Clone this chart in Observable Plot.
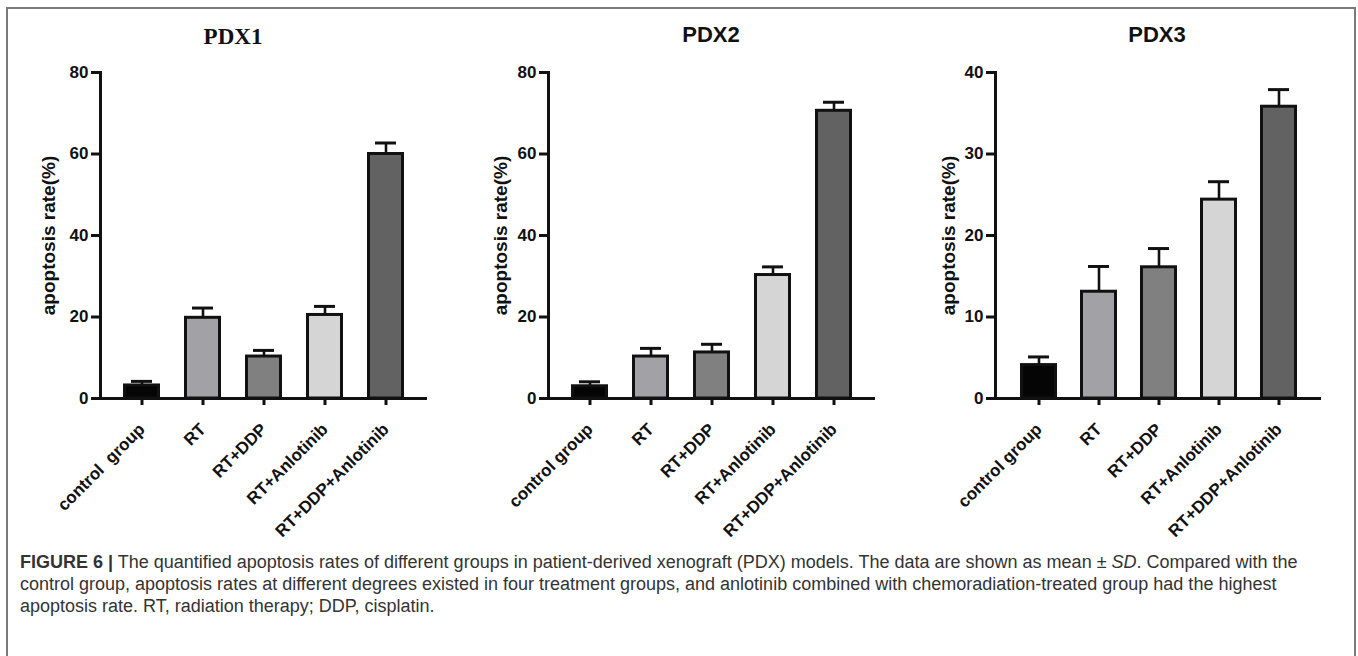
<!DOCTYPE html>
<html>
<head>
<meta charset="utf-8">
<script src="https://cdn.jsdelivr.net/npm/d3@7"></script>
<script src="https://cdn.jsdelivr.net/npm/@observablehq/plot@0.6"></script>
<style>
  html, body { margin: 0; padding: 0; background: #fff; width: 1358px; height: 656px; overflow: hidden; }
  #root { position: relative; width: 1358px; height: 656px; }
  #frame { position: absolute; left: 6px; top: 7px; width: 1346px; height: 700px; border: 2px solid #7a7a7a; border-bottom: none; }
  .panel { position: absolute; top: 0; }
  .title { position: absolute; transform: translateX(-50%); font-weight: bold; color: #111; white-space: nowrap; }
  #caption { position: absolute; left: 20px; top: 551px; font-family: "Liberation Sans", Arial, sans-serif; font-size: 18px; line-height: 22px; color: #333; }
  #caption div { white-space: nowrap; }
</style>
</head>
<body>
<div id="root">
  <div id="frame"></div>
  <div id="caption">
    <div><b>FIGURE 6 |</b> The quantified apoptosis rates of different groups in patient-derived xenograft (PDX) models. The data are shown as mean ± <i>SD</i>. Compared with the</div>
    <div>control group, apoptosis rates at different degrees existed in four treatment groups, and anlotinib combined with chemoradiation-treated group had the highest</div>
    <div>apoptosis rate. RT, radiation therapy; DDP, cisplatin.</div>
  </div>
</div>
<script>
const groups1 = ["control  group", "RT", "RT+DDP", "RT+Anlotinib", "RT+DDP+Anlotinib"];
const groups = ["control group", "RT", "RT+DDP", "RT+Anlotinib", "RT+DDP+Anlotinib"];
const colors = ["#050505", "#a2a2a6", "#808080", "#d5d5d5", "#626262"];

const pdx1Mean = [3.2, 19.8, 10.3, 20.5, 60.0];
const pdx1SD   = [1.0, 2.4, 1.5, 2.1, 2.7];
const pdx2Mean = [3.0, 10.3, 11.3, 30.3, 70.6];
const pdx2SD   = [1.1, 2.0, 2.0, 2.0, 2.1];
const pdx3Mean = [4.1, 13.1, 16.1, 24.4, 35.8];
const pdx3SD   = [1.0, 3.1, 2.3, 2.2, 2.1];

const ticks80 = [0, 20, 40, 60, 80];
const ticks40 = [0, 10, 20, 30, 40];

const panels = [
  {title: "PDX1", serif: true, cats: groups1, mean: pdx1Mean, sd: pdx1SD, ymax: 80, ticks: ticks80,
   left: 0, width: 460, marginLeft: 100, marginRight: 33, labelDx: -52, titleX: 233},
  {title: "PDX2", serif: false, cats: groups, mean: pdx2Mean, sd: pdx2SD, ymax: 80, ticks: ticks80,
   left: 450, width: 460, marginLeft: 98, marginRight: 35, labelDx: -48, titleX: 711},
  {title: "PDX3", serif: false, cats: groups, mean: pdx3Mean, sd: pdx3SD, ymax: 40, ticks: ticks40,
   left: 900, width: 450, marginLeft: 95, marginRight: 29, labelDx: -47, titleX: 1157}
];

const root = document.getElementById("root");

function thicken(el, w) {
  const all = [el, ...el.querySelectorAll("*")];
  for (const c of all) {
    c.setAttribute("stroke-width", w);
    c.setAttribute("stroke", "#111");
    c.style.strokeWidth = w + "px";
  }
}

for (const p of panels) {
  const data = p.cats.map((g, i) => ({group: g, mean: p.mean[i], top: p.mean[i] + p.sd[i], color: colors[i]}));
  const chart = Plot.plot({
    width: p.width,
    height: 540,
    marginLeft: p.marginLeft,
    marginRight: p.marginRight,
    marginTop: 72,
    marginBottom: 142,
    style: {fontFamily: "Liberation Sans, Arial, sans-serif", color: "#111", background: "transparent"},
    x: {domain: p.cats, paddingInner: 0.39, paddingOuter: 0.37, label: null},
    y: {domain: [0, p.ymax], label: null},
    marks: [
      Plot.ruleX(data, {x: "group", y1: "mean", y2: "top", stroke: "#111", strokeWidth: 2.6}),
      Plot.tickY(data, {x: "group", y: "top", stroke: "#111", strokeWidth: 2.6, insetLeft: 8, insetRight: 8}),
      Plot.barY(data, {x: "group", y: "mean", fill: "color", stroke: "#111", strokeWidth: 3, insetLeft: 1.5, insetRight: 1.5}),
      Plot.frame({anchor: "left", stroke: "#111", strokeWidth: 3, ariaLabel: "yline"}),
      Plot.ruleY([0], {stroke: "#111", strokeWidth: 3}),
      Plot.axisY({ticks: p.ticks, tickSize: 9, tickPadding: 3, fontSize: 17, fontWeight: "bold", strokeWidth: 3, stroke: "#111", label: null, tickFormat: d => String(d)}),
      Plot.axisX({tickSize: 7, tickFormat: () => "", strokeWidth: 3, stroke: "#111", label: null}),
      Plot.text(p.cats, {x: d => d, frameAnchor: "bottom", dy: 28, rotate: -45, textAnchor: "end", lineAnchor: "middle", fontSize: 17, fontWeight: "bold", fill: "#111"}),
      Plot.text(["apoptosis rate(%)"], {frameAnchor: "left", textAnchor: "middle", dx: p.labelDx, rotate: -90, fontSize: 19, fontWeight: "bold", fill: "#111"})
    ]
  });
  chart.querySelectorAll('[aria-label*="tick"]:not([aria-label*="label"]), [aria-label*="frame"], [aria-label="yline"]').forEach(el => thicken(el, 3));
  chart.classList.add("panel");
  chart.style.left = p.left + "px";
  root.appendChild(chart);

  const t = document.createElement("div");
  t.className = "title";
  t.textContent = p.title;
  t.style.left = p.titleX + "px";
  if (p.serif) {
    t.style.fontFamily = "'Liberation Serif', 'Times New Roman', serif";
    t.style.fontSize = "23px";
    t.style.top = "24px";
  } else {
    t.style.fontFamily = "'Liberation Sans', Arial, sans-serif";
    t.style.fontSize = "22px";
    t.style.top = "22px";
  }
  root.appendChild(t);
}
</script>
</body>
</html>
